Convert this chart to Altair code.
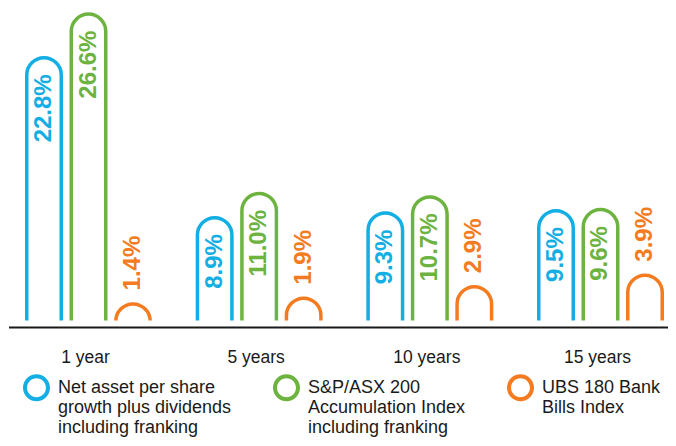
import altair as alt
import pandas as pd

periods = ["1 year", "5 years", "10 years", "15 years"]
series = [
    "Net asset per share|growth plus dividends|including franking",
    "S&P/ASX 200|Accumulation Index|including franking",
    "UBS 180 Bank|Bills Index| ",
]
nav_values = [22.8, 8.9, 9.3, 9.5]
asx_values = [26.6, 11.0, 10.7, 9.6]
ubs_values = [1.4, 1.9, 2.9, 3.9]
colors = ["#12AEE4", "#6DB33F", "#F47B20"]

rows = []
for s, vals in zip(series, [nav_values, asx_values, ubs_values]):
    for p, v in zip(periods, vals):
        rows.append({"period": p, "series": s, "value": v, "label": f"{v:.1f}%"})
df = pd.DataFrame(rows)

FONT = "Liberation Sans"
W, H = 660, 312

# ring-shaped legend symbol (outer radius 1, inner radius 0.7)
RING = ("M-1,0A1,1 0 1,0 1,0A1,1 0 1,0 -1,0Z "
        "M-0.7,0A0.7,0.7 0 1,1 0.7,0A0.7,0.7 0 1,1 -0.7,0Z")

x = alt.X(
    "period:N",
    sort=periods,
    scale=alt.Scale(range=[-4.83, 677.83], paddingInner=0, paddingOuter=0),
    axis=alt.Axis(
        title=None, domain=False, ticks=False, tickSize=0, labelAngle=0,
        labelFontSize=17.5, labelFont=FONT, labelColor="#1a1a1a",
        labelPadding=28.5, labelOffset=-3, labelBaseline="top",
    ),
)
xo = alt.XOffset("series:N", sort=series,
                 scale=alt.Scale(paddingInner=0.2247, paddingOuter=0.53))
y = alt.Y("value:Q", scale=alt.Scale(domain=[0, 27.13], nice=False, zero=True), axis=None)

color_scale = alt.Scale(domain=series, range=colors)
legend = alt.Legend(
    title=None, orient="none", legendX=15, legendY=366, direction="horizontal",
    symbolType=RING, symbolSize=729, symbolStrokeWidth=0,
    labelExpr="split(datum.label, '|')", labelFont=FONT, labelFontSize=18,
    labelColor="#1a1a1a", labelLimit=400, labelOffset=8, columnPadding=41,
    labelBaseline="middle", padding=0,
)

bars = alt.Chart(df).mark_bar(
    filled=False, strokeWidth=3.5,
    cornerRadiusTopLeft=17.25, cornerRadiusTopRight=17.25,
).encode(
    x=x, xOffset=xo, y=y, y2=alt.Y2(datum=-1.65),
    color=alt.Color("series:N", sort=series, scale=color_scale, legend=legend),
)

cover = alt.Chart(pd.DataFrame({"k": [0]})).mark_rect(color="white").encode(
    x=alt.value(0), x2=alt.value(W), y=alt.value(312.6), y2=alt.value(334)
)

baseline = alt.Chart(pd.DataFrame({"k": [0]})).mark_rule(color="#1a1a1a", strokeWidth=2).encode(
    x=alt.value(1), x2=alt.value(W), y=alt.value(319.5)
)

inside = alt.Chart(df).transform_filter(
    alt.FieldOneOfPredicate(field="series", oneOf=series[:2])
).mark_text(
    angle=270, align="right", baseline="middle", dx=-16.5,
    fontSize=24, fontWeight="bold", font=FONT,
).encode(
    x=x, xOffset=xo, y=y, text="label:N",
    color=alt.Color("series:N", sort=series, scale=color_scale, legend=None),
)

outside = alt.Chart(df).transform_filter(
    alt.FieldEqualPredicate(field="series", equal=series[2])
).mark_text(
    angle=270, align="left", baseline="middle", dx=13.5,
    fontSize=24, fontWeight="bold", font=FONT,
).encode(
    x=x, xOffset=xo, y=y, text="label:N",
    color=alt.Color("series:N", sort=series, scale=color_scale, legend=None),
)

chart = alt.layer(bars, cover, baseline, inside, outside).properties(
    width=W, height=H,
    padding={"left": 0, "top": 0, "right": 0, "bottom": 118},
    autosize=alt.AutoSizeParams(type="none"),
    background="white",
).configure_view(stroke=None)

chart.save("out.html", embed_options={"renderer": "svg", "actions": False})
